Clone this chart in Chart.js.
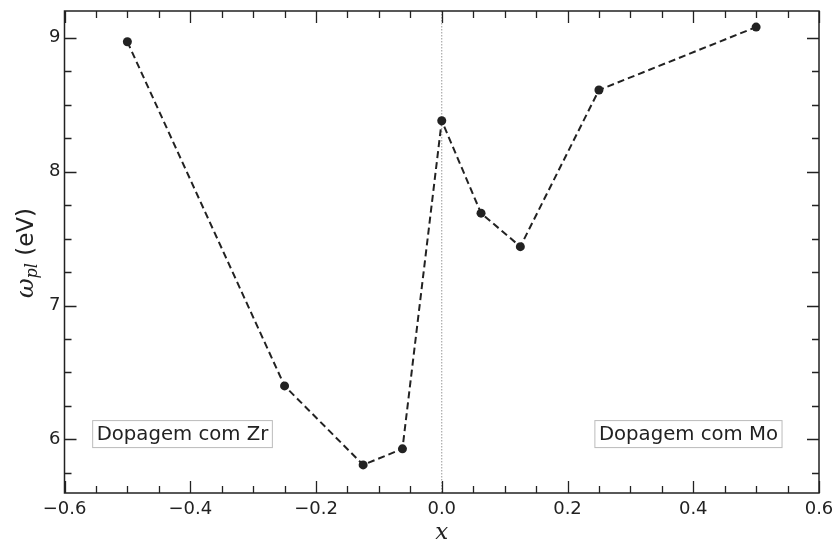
<!DOCTYPE html>
<html>
<head>
<meta charset="utf-8">
<script src="https://cdn.jsdelivr.net/npm/chart.js@4/dist/chart.umd.min.js"></script>
<style>
  html, body { margin: 0; padding: 0; background: #fff; }
  #wrap { width: 835px; height: 545px; }
</style>
</head>
<body>
<div id="wrap"><canvas id="plasmaChart" width="835" height="545"></canvas></div>
<script>
// dopant fraction x (negative: Zr, positive: Mo) and plasma energy
const dopingX = [-0.5, -0.25, -0.125, -0.0625, 0, 0.0625, 0.125, 0.25, 0.5];
const omegaPl = [8.97, 6.40, 5.81, 5.93, 8.38, 7.69, 7.44, 8.61, 9.08];

const xTicks = [-0.6, -0.4, -0.2, 0, 0.2, 0.4, 0.6];
const yTicks = [6, 7, 8, 9];

const regionLabels = ['Dopagem com Zr', 'Dopagem com Mo'];

const INK = '#222';

function fmtTick(v, digits) {
  return v.toFixed(digits).replace('-', '\u2212');
}

// inward ticks on all four sides, frame, zero line, labels
const framePlugin = {
  id: 'frame',
  beforeDatasetsDraw(chart) {
    const { ctx, chartArea: a, scales } = chart;
    const x0 = scales.x.getPixelForValue(0);
    ctx.save();
    ctx.strokeStyle = '#999';
    ctx.lineWidth = 1;
    ctx.setLineDash([1.5, 1.5]);
    ctx.beginPath();
    ctx.moveTo(x0, a.top);
    ctx.lineTo(x0, a.bottom);
    ctx.stroke();
    ctx.restore();
  },
  afterDatasetsDraw(chart) {
    const { ctx, chartArea: a, scales } = chart;
    const sx = scales.x, sy = scales.y;
    ctx.save();
    ctx.strokeStyle = INK;
    ctx.lineWidth = 1.3;

    const tickX = (v, len) => {
      const p = Math.round(sx.getPixelForValue(v)) + 0.5;
      ctx.moveTo(p, a.bottom); ctx.lineTo(p, a.bottom - len);
      ctx.moveTo(p, a.top); ctx.lineTo(p, a.top + len);
    };
    const tickY = (v, len) => {
      const p = Math.round(sy.getPixelForValue(v)) + 0.5;
      ctx.moveTo(a.left, p); ctx.lineTo(a.left + len, p);
      ctx.moveTo(a.right, p); ctx.lineTo(a.right - len, p);
    };

    ctx.beginPath();
    xTicks.forEach(v => tickX(v, 12));
    for (let i = 0; i < xTicks.length - 1; i++) {
      const step = (xTicks[i + 1] - xTicks[i]) / 4;
      for (let k = 1; k < 4; k++) tickX(xTicks[i] + k * step, 7);
    }
    yTicks.forEach(v => tickY(v, 12));
    for (let v = Math.ceil(sy.min * 4) / 4; v <= sy.max; v += 0.25) {
      if (Math.abs(v - Math.round(v)) > 1e-6) tickY(v, 7);
    }
    ctx.stroke();

    ctx.lineWidth = 1.5;
    ctx.strokeRect(a.left, a.top, a.right - a.left, a.bottom - a.top);

    // region labels with boxes
    ctx.font = '19.7px "DejaVu Sans"';
    ctx.textBaseline = 'middle';
    const boxY = sy.getPixelForValue(6.04);
    const drawBox = (text, left) => {
      const w = ctx.measureText(text).width;
      ctx.fillStyle = '#fff';
      ctx.strokeStyle = '#bbb';
      ctx.lineWidth = 1;
      ctx.fillRect(left, boxY - 14, w + 9, 28);
      ctx.strokeRect(left + 0.5, boxY - 13.5, w + 8, 27);
      ctx.fillStyle = INK;
      ctx.fillText(text, left + 4.5, boxY + 1);
    };
    drawBox(regionLabels[0], sx.getPixelForValue(-0.556));
    const wMo = ctx.measureText(regionLabels[1]).width;
    drawBox(regionLabels[1], sx.getPixelForValue(0.542) - wMo - 9);

    // axis titles
    ctx.fillStyle = INK;
    ctx.textBaseline = 'alphabetic';
    ctx.textAlign = 'center';
    ctx.font = 'italic 23px "DejaVu Serif"';
    ctx.fillText('x', (a.left + a.right) / 2, 539);

    ctx.translate(33, 253);
    ctx.rotate(-Math.PI / 2);
    ctx.textAlign = 'left';
    const fOmega = 'italic 24px "DejaVu Serif"';
    const fSub = 'italic 16px "DejaVu Serif"';
    const fUnit = '23px "DejaVu Sans"';
    ctx.font = fOmega; const w1 = ctx.measureText('\u03c9').width;
    ctx.font = fSub; const w2 = ctx.measureText('pl').width;
    ctx.font = fUnit; const w3 = ctx.measureText(' (eV)').width;
    let px = -(w1 + w2 + w3) / 2;
    ctx.font = fOmega; ctx.fillText('\u03c9', px, 0); px += w1;
    ctx.font = fSub; ctx.fillText('pl', px, 4); px += w2;
    ctx.font = fUnit; ctx.fillText(' (eV)', px, 0);
    ctx.restore();
  }
};

new Chart(document.getElementById('plasmaChart'), {
  type: 'scatter',
  data: {
    datasets: [{
      data: dopingX.map((x, i) => ({ x, y: omegaPl[i] })),
      showLine: true,
      borderColor: INK,
      borderWidth: 2,
      borderDash: [7, 4],
      pointRadius: 4.5,
      pointBackgroundColor: INK,
      pointBorderWidth: 0
    }]
  },
  options: {
    responsive: false,
    animation: false,
    layout: { padding: { top: 11, right: 16, left: 0, bottom: 0 } },
    plugins: { legend: { display: false }, tooltip: { enabled: false } },
    scales: {
      x: {
        type: 'linear',
        min: -0.6,
        max: 0.6,
        grid: { display: false, drawTicks: false },
        border: { display: false },
        afterBuildTicks: s => { s.ticks = xTicks.map(v => ({ value: v })); },
        afterFit: s => { s.height = 52; s.paddingLeft = 0; s.paddingRight = 0; },
        ticks: {
          padding: 6,
          color: INK,
          font: { family: 'DejaVu Sans', size: 18 },
          callback: v => fmtTick(v, 1)
        }
      },
      y: {
        type: 'linear',
        min: 5.6,
        max: 9.2,
        grid: { display: false, drawTicks: false },
        border: { display: false },
        afterBuildTicks: s => { s.ticks = yTicks.map(v => ({ value: v })); },
        afterFit: s => { s.width = 64.5; s.paddingTop = 0; s.paddingBottom = 0; },
        ticks: {
          padding: 4,
          color: INK,
          font: { family: 'DejaVu Sans', size: 18 },
          callback: v => fmtTick(v, 0)
        }
      }
    }
  },
  plugins: [framePlugin]
});
</script>
</body>
</html>
